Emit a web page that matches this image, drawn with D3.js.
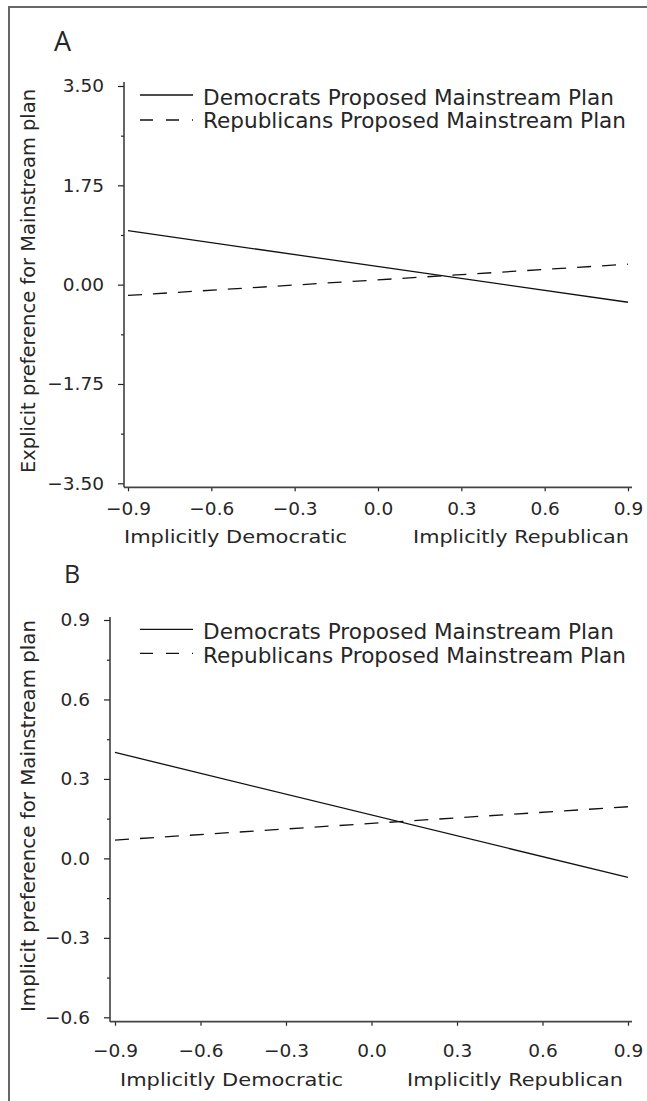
<!DOCTYPE html>
<html>
<head>
<meta charset="utf-8">
<script src="https://cdn.jsdelivr.net/npm/d3@7"></script>
<style>
  html, body { margin: 0; padding: 0; background: #fff; }
  svg { display: block; }
  text { font-family: "DejaVu Sans", sans-serif; fill: #262626; }
</style>
</head>
<body>
<script>
// ---------------- data ----------------
const xEnds = [-0.9, 0.9];
const xTicks = [-0.9, -0.6, -0.3, 0.0, 0.3, 0.6, 0.9];
const seriesNames = ["Democrats Proposed Mainstream Plan", "Republicans Proposed Mainstream Plan"];
const xSubLabels = ["Implicitly Democratic", "Implicitly Republican"];

// Panel A
const aDem = [0.95, -0.31];
const aRep = [-0.19, 0.36];
const aYTicks = [-3.5, -1.75, 0, 1.75, 3.5];
const aYMinor = [-2.625, -0.875, 0.875, 2.625];
const aYTitle = "Explicit preference for Mainstream plan";

// Panel B
const bDem = [0.40, -0.072];
const bRep = [0.069, 0.195];
const bYTicks = [-0.6, -0.3, 0.0, 0.3, 0.6, 0.9];
const bYMinor = [-0.45, -0.15, 0.15, 0.45, 0.75];
const bYTitle = "Implicit preference for Mainstream plan";

const W = 647, H = 1101;
const svg = d3.select("body").append("svg").attr("width", W).attr("height", H);

// outer frame (top and left)
svg.append("path")
  .attr("d", `M9,${H} L9,7 L${W},7`)
  .attr("fill", "none").attr("stroke", "#666").attr("stroke-width", 2);

function panel(cfg) {
  const g = svg.append("g");
  const x = d3.scaleLinear().domain([-0.9, 0.9]).range(cfg.xRange);
  const y = d3.scaleLinear().domain(cfg.yDomain).range(cfg.yRange);

  // panel letter
  g.append("text").attr("x", cfg.letterX).attr("y", cfg.letterY)
    .style("font-family", "'Open Sans', sans-serif")
    .style("font-size", cfg.letterSize + "px").text(cfg.letter);

  // y axis
  const yAxis = d3.axisLeft(y).tickValues(cfg.yTicks).tickSize(6).tickSizeOuter(0)
    .tickPadding(14).tickFormat(cfg.yFmt);
  const gy = g.append("g").attr("transform", `translate(${cfg.axisX},0)`).call(yAxis);
  gy.select(".domain").remove();
  gy.selectAll("line").attr("stroke", "#222").attr("stroke-width", 1.2);
  gy.selectAll("text").style("font-size", "18.5px").style("font-family", "'DejaVu Sans', sans-serif").attr("fill", "#262626");
  const yMinorAxis = d3.axisLeft(y).tickValues(cfg.yMinor).tickSize(3).tickSizeOuter(0).tickFormat("");
  const gym = g.append("g").attr("transform", `translate(${cfg.axisX},0)`).call(yMinorAxis);
  gym.select(".domain").remove();
  gym.selectAll("line").attr("stroke", "#222").attr("stroke-width", 1.2);

  // x axis
  const xAxis = d3.axisBottom(x).tickValues(xTicks).tickSize(4).tickSizeOuter(0)
    .tickPadding(cfg.xPad).tickFormat(d3.format(".1f"));
  const gx = g.append("g").attr("transform", `translate(0,${cfg.axisY})`).call(xAxis);
  gx.select(".domain").remove();
  gx.selectAll("line").attr("stroke", "#222").attr("stroke-width", 1.2);
  gx.selectAll("text").style("font-size", "18.5px").style("font-family", "'DejaVu Sans', sans-serif").attr("fill", "#262626");

  // axis lines
  g.append("line").attr("x1", cfg.axisX).attr("x2", cfg.axisX)
    .attr("y1", cfg.axisTop).attr("y2", cfg.axisY)
    .attr("stroke", "#333").attr("stroke-width", 1.5);
  g.append("line").attr("x1", cfg.axisX).attr("x2", 632)
    .attr("y1", cfg.axisY).attr("y2", cfg.axisY)
    .attr("stroke", "#444").attr("stroke-width", 1.8);

  // y title
  g.append("text")
    .attr("transform", `translate(35,${cfg.yTitleC}) rotate(-90)`)
    .attr("text-anchor", "middle")
    .attr("textLength", cfg.yTitleLen).attr("lengthAdjust", "spacingAndGlyphs")
    .style("font-size", "19px").text(cfg.yTitle);

  // x sub labels
  g.append("text").attr("x", cfg.sub1[0]).attr("y", cfg.subY)
    .attr("textLength", cfg.sub1[1]).attr("lengthAdjust", "spacingAndGlyphs")
    .style("font-size", "18.5px").text(xSubLabels[0]);
  g.append("text").attr("x", cfg.sub2[0]).attr("y", cfg.subY)
    .attr("textLength", cfg.sub2[1]).attr("lengthAdjust", "spacingAndGlyphs")
    .style("font-size", "18.5px").text(xSubLabels[1]);

  // lines
  const line = d3.line().x(d => x(d[0])).y(d => y(d[1]));
  g.append("path").datum(xEnds.map((xv, i) => [xv, cfg.dem[i]]))
    .attr("d", line).attr("fill", "none").attr("stroke", "#111").attr("stroke-width", 1.3);
  g.append("path").datum(xEnds.map((xv, i) => [xv, cfg.rep[i]]))
    .attr("d", line).attr("fill", "none").attr("stroke", "#111").attr("stroke-width", 1.3)
    .attr("stroke-dasharray", "14,11");

  // legend
  const lg = g.append("g");
  const dashes = [null, "13,13"];
  const lens = [411, 423];
  seriesNames.forEach((name, i) => {
    const ly = cfg.legY[i];
    lg.append("line").attr("x1", 140).attr("x2", 193).attr("y1", ly).attr("y2", ly)
      .attr("stroke", "#111").attr("stroke-width", 1.3)
      .attr("stroke-dasharray", dashes[i]);
    lg.append("text").attr("x", 203).attr("y", cfg.legBase[i])
      .attr("textLength", lens[i]).attr("lengthAdjust", "spacingAndGlyphs")
      .style("font-size", "21.5px").text(name);
  });
}

panel({
  letter: "A", letterX: 54, letterY: 51, letterSize: 27,
  xRange: [128, 628], yDomain: [-3.5, 3.5], yRange: [483.3, 86],
  yTicks: aYTicks, yMinor: aYMinor, yFmt: d3.format(".2f"),
  axisX: 124, axisY: 487.3, axisTop: 82, xPad: 10.5,
  yTitle: aYTitle, yTitleC: 281, yTitleLen: 384,
  sub1: [124, 223], sub2: [413, 216], subY: 543,
  dem: aDem, rep: aRep,
  legY: [95, 120], legBase: [105, 128]
});

panel({
  letter: "B", letterX: 64, letterY: 583, letterSize: 25,
  xRange: [115, 628], yDomain: [-0.6, 0.9], yRange: [1017.3, 620],
  yTicks: bYTicks, yMinor: bYMinor, yFmt: d3.format(".1f"),
  axisX: 110, axisY: 1021.7, axisTop: 617, xPad: 18,
  yTitle: bYTitle, yTitleC: 816, yTitleLen: 392,
  sub1: [120, 223], sub2: [407, 216], subY: 1086,
  dem: bDem, rep: bRep,
  legY: [629.3, 653.3], legBase: [639.3, 663.3]
});
</script>
</body>
</html>
